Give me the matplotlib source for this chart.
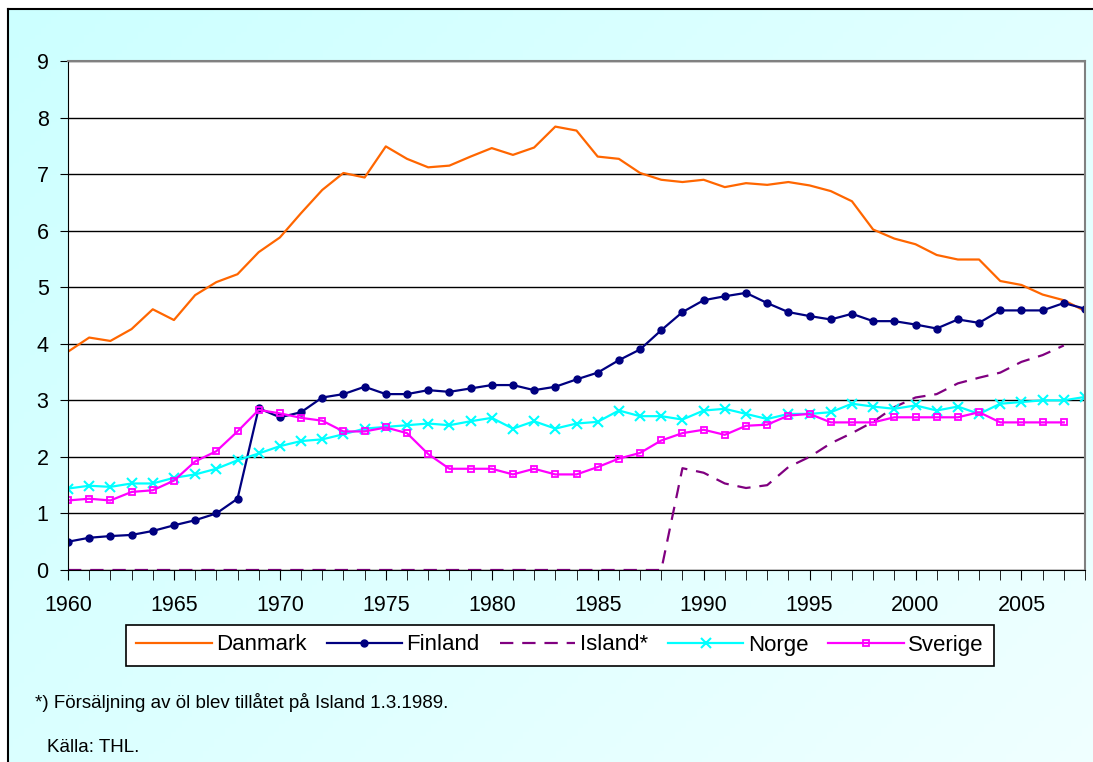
import matplotlib
matplotlib.use("Agg")
import matplotlib.pyplot as plt
import numpy as np

plt.rcParams['font.family'] = ['Liberation Sans', 'DejaVu Sans']

years = list(range(1960, 2009))

danmark = [3.86, 4.11, 4.05, 4.26, 4.61, 4.42, 4.86, 5.09, 5.23, 5.62,
           5.88, 6.31, 6.72, 7.02, 6.94, 7.49, 7.27, 7.12, 7.15, 7.31,
           7.46, 7.34, 7.47, 7.84, 7.77, 7.31, 7.27, 7.02, 6.90, 6.86,
           6.90, 6.77, 6.84, 6.81, 6.86, 6.80, 6.70, 6.52, 6.02, 5.86,
           5.76, 5.57, 5.49, 5.49, 5.11, 5.04, 4.87, 4.77, 4.58]
finland = [0.50, 0.57, 0.60, 0.62, 0.69, 0.79, 0.88, 1.00, 1.26, 2.86,
           2.70, 2.79, 3.05, 3.11, 3.24, 3.11, 3.11, 3.18, 3.15, 3.21,
           3.27, 3.27, 3.18, 3.24, 3.37, 3.49, 3.71, 3.90, 4.24, 4.56,
           4.77, 4.84, 4.90, 4.72, 4.56, 4.49, 4.43, 4.53, 4.40, 4.40,
           4.34, 4.27, 4.43, 4.37, 4.59, 4.59, 4.59, 4.72, 4.62]
island = [0.0] * 29 + [1.80, 1.72, 1.53, 1.45, 1.50, 1.82, 2.00, 2.24, 2.42,
                       2.62, 2.88, 3.05, 3.11, 3.30, 3.40, 3.49, 3.68, 3.80, 3.97]
norge = [1.44, 1.49, 1.47, 1.53, 1.53, 1.63, 1.69, 1.79, 1.94, 2.06,
         2.19, 2.28, 2.31, 2.40, 2.50, 2.53, 2.56, 2.59, 2.56, 2.63,
         2.69, 2.50, 2.63, 2.50, 2.59, 2.62, 2.82, 2.72, 2.72, 2.66,
         2.82, 2.85, 2.76, 2.67, 2.76, 2.76, 2.79, 2.94, 2.89, 2.85,
         2.91, 2.82, 2.89, 2.76, 2.94, 2.97, 3.00, 3.00, 3.06]
sverige = [1.23, 1.26, 1.23, 1.38, 1.41, 1.58, 1.92, 2.10, 2.45, 2.83,
           2.77, 2.69, 2.64, 2.45, 2.45, 2.52, 2.42, 2.05, 1.79, 1.79,
           1.79, 1.69, 1.79, 1.69, 1.69, 1.82, 1.97, 2.07, 2.29, 2.42,
           2.48, 2.39, 2.55, 2.57, 2.73, 2.76, 2.61, 2.61, 2.61, 2.70,
           2.70, 2.70, 2.70, 2.79, 2.61, 2.61, 2.61, 2.61]

fig = plt.figure(figsize=(10.93, 7.62), dpi=100)
fig.patch.set_facecolor('white')

# gradient backdrop inside the outer frame
bg = fig.add_axes([8 / 1093, 0, 1 - 8 / 1093, 1 - 9 / 762])
gx, gy = np.meshgrid(np.linspace(0, 1, 200), np.linspace(0, 1, 200))
g = (gx * 0.6 + gy * 0.4)
c0 = np.array([0.80, 1.0, 1.0])
c1 = np.array([0.94, 1.0, 1.0])
img = c0[None, None, :] * (1 - g[..., None]) + c1[None, None, :] * g[..., None]
bg.imshow(img, aspect='auto', extent=[0, 1, 0, 1], origin='upper')
bg.set_xticks([])
bg.set_yticks([])
for s in ['right', 'bottom']:
    bg.spines[s].set_visible(False)
for s in ['left', 'top']:
    bg.spines[s].set_linewidth(1.5)

ax = fig.add_axes([68 / 1093, 1 - 570 / 762, (1085 - 68) / 1093, (570 - 61) / 762])
ax.set_facecolor('white')

ax.plot(years, danmark, color='#FF6600', lw=1.6, label='Danmark')
ax.plot(years, finland, color='#000080', lw=1.6, marker='o', ms=5, label='Finland')
ax.plot(years[:len(island)], island, color='#800080', lw=1.6, ls=(0, (6, 4)), label='Island*')
ax.plot(years, norge, color='#00FFFF', lw=1.6, marker='x', ms=7, mew=1.5, label='Norge')
ax.plot(years[:len(sverige)], sverige, color='#FF00FF', lw=1.6, marker='s', ms=5,
        mfc='none', mew=1.3, label='Sverige')

ax.set_xlim(1960, 2008)
ax.set_ylim(0, 9)
ax.set_yticks(range(10))
ax.set_xticks(range(1960, 2009, 5))
ax.set_xticks(range(1960, 2009), minor=True)
ax.yaxis.grid(True, color='black', lw=1)
ax.set_axisbelow(True)
ax.tick_params(axis='both', labelsize=15.5, direction='out', color='black')
ax.tick_params(axis='x', which='both', length=7, pad=11)
ax.tick_params(axis='y', length=6, pad=8)
ax.spines['top'].set_color('#808080')
ax.spines['right'].set_color('#808080')
ax.spines['top'].set_linewidth(1.5)
ax.spines['right'].set_linewidth(1.5)

leg = ax.legend(loc='center', bbox_to_anchor=(560 / 1093, 1 - 645 / 762),
                bbox_transform=fig.transFigure, ncol=5, fontsize=16,
                frameon=True, fancybox=False, framealpha=1, edgecolor='black',
                handlelength=3.4, columnspacing=0.9, handletextpad=0.2,
                borderpad=0.45)
leg.get_frame().set_linewidth(1.2)

fig.text(35 / 1093, 1 - 703 / 762, '*) Försäljning av öl blev tillåtet på Island 1.3.1989.',
         fontsize=13.5, va='center')
fig.text(47 / 1093, 1 - 748 / 762, 'Källa: THL.', fontsize=13.5, va='center')

fig.savefig('out.png', dpi=100)
